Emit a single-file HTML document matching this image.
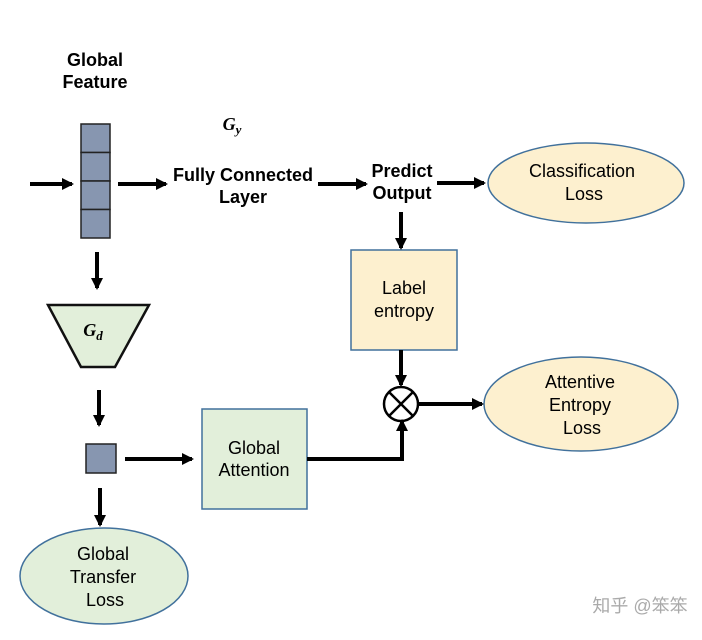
<!DOCTYPE html>
<html><head><meta charset="utf-8"><style>
body{margin:0;background:#fff}
text{font-family:"Liberation Sans",Arial,sans-serif;font-size:18px;text-anchor:middle;fill:#000}
.b{font-weight:bold}
.m{font-family:"Liberation Serif",serif;font-style:italic;font-weight:bold}
</style></head><body>
<svg width="702" height="635" viewBox="0 0 702 635" xmlns="http://www.w3.org/2000/svg">
<defs><marker id="a" markerWidth="12" markerHeight="12" refX="10" refY="6" orient="auto" markerUnits="userSpaceOnUse"><path d="M0,0 L12,6 L0,12 z" fill="#000"/></marker></defs>
<text class="b" x="95" y="66">Global</text>
<text class="b" x="95" y="88">Feature</text>
<g fill="#8796b0" stroke="#222" stroke-width="1.5">
<rect x="81" y="124" width="29" height="28.5"/><rect x="81" y="152.5" width="29" height="28.5"/><rect x="81" y="181" width="29" height="28.5"/><rect x="81" y="209.5" width="29" height="28.5"/>
<rect x="86" y="444" width="30" height="29"/></g>
<text class="m" x="232" y="130" font-size="18">G<tspan font-size="13" dy="4">y</tspan></text>
<text class="b" x="243" y="181">Fully Connected</text>
<text class="b" x="243" y="203">Layer</text>
<text class="b" x="402" y="177">Predict</text>
<text class="b" x="402" y="199">Output</text>
<polygon points="48,305 149,305 115,367 81,367" fill="#e2efda" stroke="#111" stroke-width="2.5"/>
<text class="m" x="93" y="336">G<tspan font-size="13" dy="4">d</tspan></text>
<rect x="202" y="409" width="105" height="100" fill="#e2efda" stroke="#41719c" stroke-width="1.5"/>
<text x="254" y="454">Global</text><text x="254" y="476">Attention</text>
<rect x="351" y="250" width="106" height="100" fill="#fdf0cf" stroke="#41719c" stroke-width="1.5"/>
<text x="404" y="294">Label</text><text x="404" y="317">entropy</text>
<ellipse cx="586" cy="183" rx="98" ry="40" fill="#fdf0cf" stroke="#41719c" stroke-width="1.5"/>
<text x="582" y="177">Classification</text><text x="584" y="200">Loss</text>
<ellipse cx="581" cy="404" rx="97" ry="47" fill="#fdf0cf" stroke="#41719c" stroke-width="1.5"/>
<text x="580" y="388">Attentive</text><text x="580" y="411">Entropy</text><text x="582" y="434">Loss</text>
<ellipse cx="104" cy="576" rx="84" ry="48" fill="#e2efda" stroke="#41719c" stroke-width="1.5"/>
<text x="103" y="560">Global</text><text x="103" y="583">Transfer</text><text x="105" y="606">Loss</text>
<circle cx="401" cy="404" r="17" fill="#fff" stroke="#000" stroke-width="2.5"/>
<path d="M389,392 L413,416 M413,392 L389,416" stroke="#000" stroke-width="2.5"/>
<g stroke="#000" stroke-width="4" fill="none" marker-end="url(#a)">
<path d="M30,184 H72"/><path d="M118,184 H166"/><path d="M318,184 H366"/><path d="M437,183 H484"/>
<path d="M401,212 V248"/><path d="M97,252 V288"/><path d="M99,390 V425"/>
<path d="M125,459 H192"/><path d="M100,488 V525"/><path d="M401,350 V385"/>
<path d="M307,459 H402 V421"/><path d="M418,404 H482"/>
</g>
<text x="640" y="612" font-family="'Noto Sans CJK SC',sans-serif" font-size="16" style="fill:#aaa">知乎 @笨笨</text>
</svg>
</body></html>
